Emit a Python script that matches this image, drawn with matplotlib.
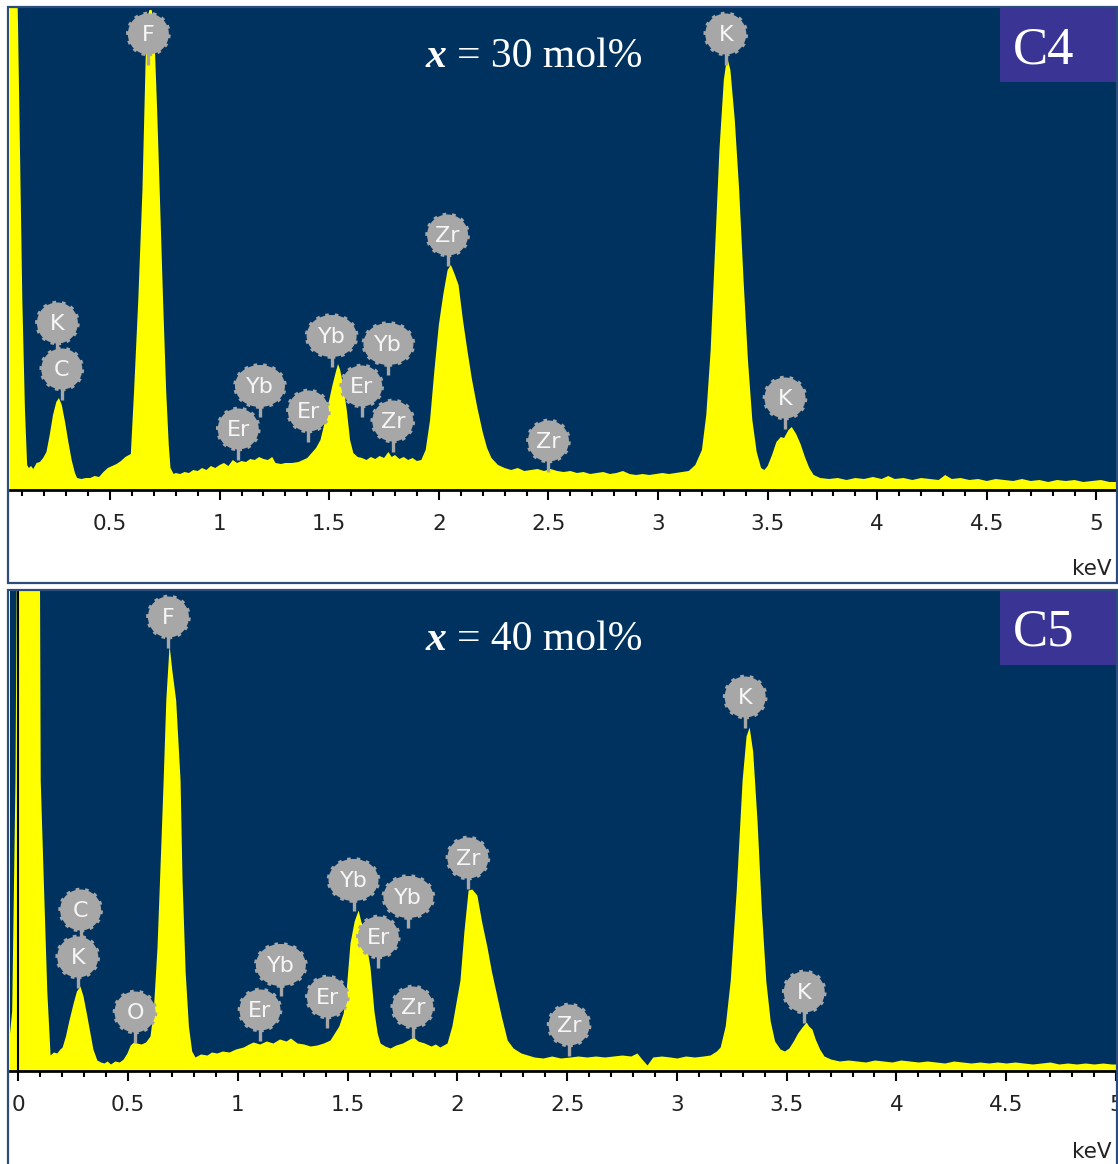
import numpy as np
import matplotlib.pyplot as plt
from matplotlib.patches import Ellipse, Rectangle
from matplotlib.ticker import MultipleLocator, FormatStrFormatter

# EDS spectra, counts (arbitrary units)
c4_energy = [0.000, 0.060, 0.080, 0.100, 0.112, 0.122, 0.130, 0.140, 0.150, 0.165,
             0.180, 0.195, 0.210, 0.225, 0.240, 0.255, 0.267, 0.280, 0.295, 0.310,
             0.325, 0.340, 0.350, 0.370, 0.390, 0.410, 0.430, 0.450, 0.470, 0.490,
             0.510, 0.530, 0.550, 0.570, 0.595, 0.610, 0.629, 0.648, 0.667, 0.680,
             0.690, 0.700, 0.715, 0.728, 0.742, 0.756, 0.768, 0.776, 0.790, 0.800,
             0.820, 0.840, 0.860, 0.880, 0.900, 0.920, 0.940, 0.960, 0.980, 1.000,
             1.020, 1.040, 1.060, 1.080, 1.100, 1.120, 1.140, 1.160, 1.180, 1.200,
             1.220, 1.240, 1.255, 1.280, 1.300, 1.330, 1.360, 1.380, 1.400, 1.420,
             1.440, 1.460, 1.480, 1.500, 1.515, 1.530, 1.540, 1.550, 1.565, 1.580,
             1.595, 1.610, 1.630, 1.650, 1.670, 1.690, 1.710, 1.730, 1.750, 1.770,
             1.785, 1.800, 1.820, 1.840, 1.860, 1.880, 1.900, 1.920, 1.940, 1.960,
             1.980, 2.000, 2.020, 2.040, 2.055, 2.070, 2.090, 2.110, 2.130, 2.150,
             2.175, 2.200, 2.220, 2.240, 2.270, 2.300, 2.330, 2.360, 2.390, 2.420,
             2.450, 2.480, 2.510, 2.540, 2.570, 2.600, 2.630, 2.660, 2.690, 2.720,
             2.750, 2.780, 2.810, 2.840, 2.870, 2.900, 2.930, 2.960, 2.990, 3.020,
             3.050, 3.080, 3.110, 3.140, 3.170, 3.200, 3.220, 3.240, 3.260, 3.280,
             3.300, 3.315, 3.330, 3.350, 3.370, 3.390, 3.410, 3.430, 3.450, 3.470,
             3.485, 3.500, 3.520, 3.540, 3.560, 3.575, 3.595, 3.610, 3.630, 3.650,
             3.670, 3.690, 3.710, 3.740, 3.780, 3.820, 3.860, 3.900, 3.940, 3.980,
             4.020, 4.050, 4.080, 4.120, 4.160, 4.200, 4.240, 4.280, 4.310, 4.340,
             4.380, 4.420, 4.460, 4.500, 4.540, 4.580, 4.620, 4.660, 4.700, 4.740,
             4.780, 4.820, 4.860, 4.900, 4.940, 4.980, 5.020, 5.060, 5.100]
c4_counts = [1500, 700, 470, 190, 80, 25, 22, 24, 21, 27,
             28, 32, 38, 55, 75, 88, 92, 85, 68, 48,
             30, 17, 12, 11, 12, 12, 14, 13, 18, 22,
             24, 26, 29, 33, 36, 100, 190, 300, 470, 480,
             480, 470, 380, 290, 190, 100, 45, 22, 16, 17,
             16, 18, 17, 20, 19, 22, 20, 24, 22, 25,
             27, 24, 30, 27, 29, 28, 31, 30, 33, 31,
             30, 33, 27, 26, 27, 27, 28, 30, 32, 37,
             42, 50, 68, 90, 105, 118, 126, 120, 103, 80,
             50, 37, 33, 32, 30, 33, 31, 34, 32, 38,
             33, 35, 31, 33, 30, 32, 29, 30, 40, 70,
             120, 165, 195, 220, 225, 217, 205, 170, 140, 112,
             83, 58, 42, 32, 25, 22, 20, 22, 19, 20,
             21, 19, 21, 19, 18, 19, 17, 18, 16, 17,
             18, 16, 17, 19, 16, 15, 16, 15, 16, 17,
             16, 17, 18, 19, 25, 40, 75, 140, 240, 340,
             410, 433, 420, 370, 300, 210, 130, 70, 38, 22,
             20, 24, 35, 48, 53, 52, 60, 63, 56, 46,
             33, 22, 15, 12, 11, 12, 10, 12, 11, 13,
             11, 14, 11, 12, 10, 12, 11, 10, 15, 11,
             12, 10, 11, 9, 11, 10, 9, 11, 9, 10,
             8, 10, 9, 10, 8, 9, 10, 8, 8]

c5_energy = [-0.050, -0.030, -0.015, -0.006, 0.095, 0.100, 0.114, 0.130, 0.145, 0.160,
             0.175, 0.190, 0.200, 0.215, 0.230, 0.250, 0.265, 0.281, 0.295, 0.310,
             0.325, 0.340, 0.358, 0.375, 0.390, 0.405, 0.420, 0.440, 0.460, 0.478,
             0.495, 0.510, 0.525, 0.540, 0.560, 0.580, 0.600, 0.615, 0.632, 0.650,
             0.660, 0.672, 0.687, 0.700, 0.717, 0.737, 0.746, 0.760, 0.775, 0.790,
             0.805, 0.830, 0.860, 0.880, 0.904, 0.930, 0.960, 0.990, 1.025, 1.050,
             1.070, 1.100, 1.130, 1.160, 1.190, 1.220, 1.240, 1.270, 1.300, 1.330,
             1.360, 1.390, 1.420, 1.440, 1.460, 1.480, 1.495, 1.511, 1.530, 1.548,
             1.560, 1.575, 1.590, 1.602, 1.620, 1.635, 1.648, 1.670, 1.694, 1.720,
             1.750, 1.775, 1.800, 1.820, 1.850, 1.880, 1.900, 1.920, 1.953, 1.975,
             1.995, 2.012, 2.030, 2.049, 2.066, 2.089, 2.110, 2.135, 2.155, 2.171,
             2.200, 2.227, 2.254, 2.290, 2.320, 2.350, 2.390, 2.430, 2.470, 2.514,
             2.550, 2.590, 2.630, 2.670, 2.710, 2.750, 2.790, 2.818, 2.840, 2.864,
             2.890, 2.930, 2.969, 3.000, 3.040, 3.080, 3.120, 3.151, 3.180, 3.197,
             3.220, 3.243, 3.270, 3.297, 3.315, 3.329, 3.345, 3.365, 3.385, 3.405,
             3.425, 3.445, 3.470, 3.490, 3.510, 3.530, 3.550, 3.570, 3.589, 3.600,
             3.615, 3.630, 3.650, 3.670, 3.700, 3.740, 3.780, 3.820, 3.860, 3.900,
             3.940, 3.980, 4.020, 4.060, 4.100, 4.140, 4.180, 4.220, 4.260, 4.300,
             4.340, 4.380, 4.420, 4.460, 4.500, 4.540, 4.580, 4.620, 4.660, 4.700,
             4.740, 4.780, 4.820, 4.860, 4.900, 4.940, 4.980, 5.020]
c5_counts = [15, 60, 291, 600, 600, 291, 191, 80, 16, 19,
             18, 22, 24, 35, 50, 68, 80, 85, 75, 58,
             40, 22, 11, 9, 8, 10, 7, 10, 9, 12,
             18, 26, 29, 28, 27, 29, 35, 60, 124, 230,
             291, 371, 426, 400, 371, 291, 191, 100, 45, 20,
             14, 17, 16, 19, 18, 20, 19, 22, 24, 27,
             29, 27, 30, 28, 32, 30, 33, 28, 27, 25,
             26, 28, 31, 38, 45, 58, 85, 128, 150, 161,
             150, 140, 120, 104, 60, 38, 28, 25, 23, 26,
             28, 31, 34, 30, 28, 25, 27, 24, 28, 45,
             70, 91, 140, 181, 182, 176, 150, 124, 100, 84,
             55, 31, 23, 18, 16, 14, 13, 15, 13, 14,
             15, 14, 15, 14, 15, 16, 15, 18, 12, 6,
             14, 15, 14, 13, 15, 14, 15, 16, 20, 24,
             45, 91, 180, 291, 335, 344, 320, 250, 160, 90,
             50, 30, 22, 20, 23, 30, 38, 44, 49, 45,
             42, 32, 22, 15, 12, 10, 11, 10, 9, 11,
             10, 9, 11, 10, 9, 10, 9, 8, 10, 9,
             8, 9, 8, 9, 8, 9, 8, 7, 8, 9,
             7, 8, 7, 8, 7, 8, 7, 7]

# peak markers: element, energy (keV), height of the marker centre
c4_elements = ['F', 'K', 'Zr', 'K', 'C', 'Yb', 'Yb', 'Yb', 'Er', 'Er', 'Er', 'Zr', 'Zr', 'K']
c4_mark_e = [0.675, 3.309, 2.040, 0.260, 0.280, 1.511, 1.770, 1.184, 1.085, 1.405, 1.648, 1.790, 2.500, 3.579]
c4_mark_h = [456, 456, 255, 167, 121, 154, 146, 104, 61, 79, 104, 69, 49, 92]

c5_elements = ['F', 'K', 'Zr', 'C', 'K', 'O', 'Yb', 'Yb', 'Er', 'Yb', 'Er', 'Er', 'Zr', 'Zr', 'K']
c5_mark_e = [0.684, 3.311, 2.048, 0.284, 0.271, 0.532, 1.527, 1.777, 1.640, 1.196, 1.101, 1.408, 1.797, 2.509, 3.580]
c5_mark_h = [454, 374, 213, 161, 114, 59, 191, 174, 134, 106, 61, 74, 64, 46, 79]

tick_pos = [0, 0.5, 1, 1.5, 2, 2.5, 3, 3.5, 4, 4.5, 5]

W, H = 1118, 1164
BG = '#003260'
YEL = '#ffff00'
GREY = '#a7a7a7'
TAG = '#3a3595'

fig = plt.figure(figsize=(W / 100, H / 100), dpi=100)


def frac(x0, y0, x1, y1):
    return [x0 / W, 1 - y1 / H, (x1 - x0) / W, (y1 - y0) / H]


def panel(y_off, energy, counts, xlim, elements, mark_e, mark_h, mol, tag, zero_line):
    ax_h = 483 if y_off == 0 else 481
    ax = fig.add_axes(frac(10, 7 + y_off, 1116, 7 + y_off + ax_h))
    ax.set_facecolor(BG)
    ax.fill_between(energy, counts, 0, color=YEL, lw=0, zorder=2)
    ax.set_xlim(*xlim)
    ax.set_ylim(0, ax_h)
    if zero_line:
        ax.axvline(0, color='black', lw=1.5, zorder=3)

    kev_px = 1106 / (xlim[1] - xlim[0])
    for el, e, h in zip(elements, mark_e, mark_h):
        w = 50 if el == 'Yb' else 41
        hh = 42 if el == 'Yb' else 41
        ax.plot([e, e], [h - hh / 2 - 10, h], color=GREY, lw=2.4, zorder=4,
                solid_capstyle='butt')
        ax.add_patch(Ellipse((e, h), w / kev_px, hh, facecolor=GREY,
                             edgecolor=GREY, lw=2.6, ls=(0, (1, 1.6)), zorder=5))
        ax.text(e, h - 1, el, color='#f6f6f6', fontsize=16, ha='center',
                va='center', zorder=6, family='DejaVu Sans')

    for s in ['top', 'left', 'right']:
        ax.spines[s].set_visible(False)
    ax.spines['bottom'].set_linewidth(2)
    ax.spines['bottom'].set_zorder(7)
    ax.set_yticks([])
    ax.set_xticks([t for t in tick_pos if xlim[0] <= t <= xlim[1] + 0.01])
    ax.xaxis.set_major_formatter(FormatStrFormatter('%g'))
    ax.xaxis.set_minor_locator(MultipleLocator(0.1))
    ax.tick_params(axis='x', which='major', length=7, width=1.5, pad=10,
                   labelsize=15.5, labelfontfamily='DejaVu Sans', direction='out',
                   labelcolor='#222222')
    ax.tick_params(axis='x', which='minor', length=4, width=1.5, direction='out')

    # panel frame round the plot and the white scale strip
    fig.patches.append(Rectangle((8 / W, 1 - (583 + y_off) / H), 1109 / W, 576 / H,
                                 transform=fig.transFigure, fill=False,
                                 edgecolor='#2c4c7c', lw=1.6, zorder=10))
    fig.text(1112 / W, 1 - (575 + y_off) / H, 'keV', ha='right', va='baseline',
             fontsize=15.5, family='DejaVu Sans', color='#222222')

    # composition and sample tag
    fig.text(446 / W, 1 - (67 + y_off) / H, 'x', ha='right', va='baseline', color='white',
             fontsize=30, family='Liberation Serif', weight='bold', style='italic')
    fig.text(457 / W, 1 - (67 + y_off) / H, '= %d mol%%' % mol, ha='left', va='baseline',
             color='white', fontsize=30, family='Liberation Serif')
    fig.patches.append(Rectangle((1000 / W, 1 - (82 + y_off) / H), 118 / W, 75 / H,
                                 transform=fig.transFigure, facecolor=TAG,
                                 edgecolor='none', zorder=8))
    fig.text(1044 / W, 1 - (63 + y_off) / H, tag, ha='center', va='baseline',
             color='white', fontsize=38, family='Liberation Serif', zorder=9)
    return ax


panel(0, c4_energy, c4_counts, (0.0438, 5.089), c4_elements, c4_mark_e, c4_mark_h,
      30, 'C4', False)
panel(583, c5_energy, c5_counts, (-0.0376, 5.0), c5_elements, c5_mark_e, c5_mark_h,
      40, 'C5', True)

fig.savefig('out.png', dpi=100, facecolor='white')
